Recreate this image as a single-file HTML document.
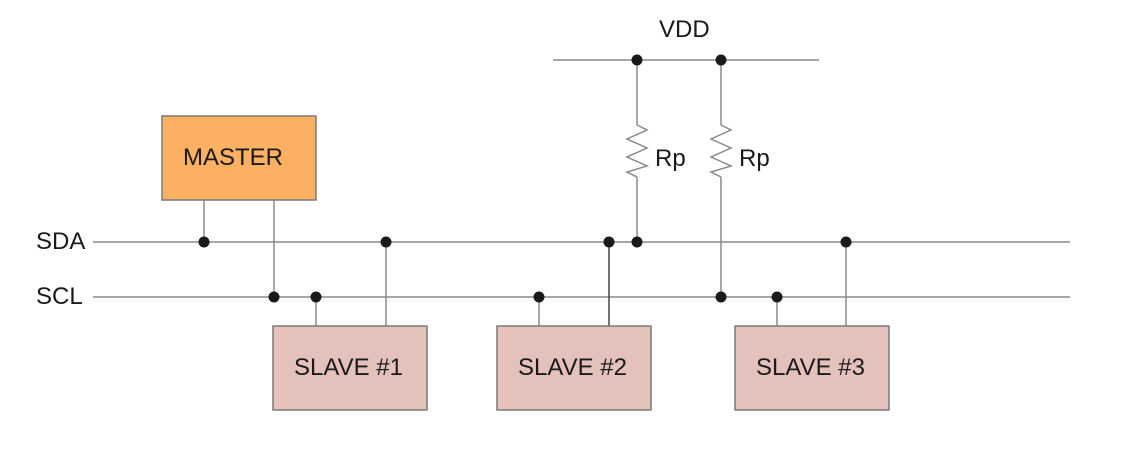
<!DOCTYPE html>
<html><head><style>body{margin:0;background:#fff}svg{display:block}</style></head><body>
<svg width="1128" height="461" viewBox="0 0 1128 461" xmlns="http://www.w3.org/2000/svg" font-family="Liberation Sans, Arial, sans-serif">
<g stroke="#8a8a8a" stroke-width="1.5" fill="none">
<line x1="553" y1="60" x2="819" y2="60"/>
<line x1="93" y1="242" x2="1070" y2="242"/>
<line x1="93" y1="297" x2="1070" y2="297"/>
<line x1="637" y1="60" x2="637" y2="125"/>
<line x1="637" y1="177" x2="637" y2="242"/>
<line x1="721" y1="60" x2="721" y2="125"/>
<line x1="721" y1="177" x2="721" y2="297"/>
<polyline points="637,125 647,130 627,139 647,148 627,157 647,166 627,172 637,177"/>
<polyline points="721,125 731,130 711,139 731,148 711,157 731,166 711,172 721,177"/>
<line x1="204" y1="200" x2="204" y2="242"/>
<line x1="274" y1="200" x2="274" y2="297"/>
<line x1="316" y1="297" x2="316" y2="326"/>
<line x1="386" y1="242" x2="386" y2="326"/>
<line x1="539" y1="297" x2="539" y2="326"/>
<line x1="609" y1="242" x2="609" y2="326" stroke="#444"/>
<line x1="777" y1="297" x2="777" y2="326"/>
<line x1="846" y1="242" x2="846" y2="326"/>
</g>
<rect x="162" y="116" width="154" height="84" fill="#fbb062" stroke="#7a7a7a" stroke-width="1.5"/>
<rect x="273" y="326" width="154" height="84" fill="#e5c1bc" stroke="#7a7a7a" stroke-width="1.5"/>
<rect x="497" y="326" width="154" height="84" fill="#e5c1bc" stroke="#7a7a7a" stroke-width="1.5"/>
<rect x="735" y="326" width="154" height="84" fill="#e5c1bc" stroke="#7a7a7a" stroke-width="1.5"/>
<g fill="#1a1a1a">
<circle cx="637" cy="60" r="5.5"/><circle cx="721" cy="60" r="5.5"/>
<circle cx="204" cy="242" r="5.5"/><circle cx="386" cy="242" r="5.5"/><circle cx="609" cy="242" r="5.5"/><circle cx="637" cy="242" r="5.5"/><circle cx="846" cy="242" r="5.5"/>
<circle cx="274" cy="297" r="5.5"/><circle cx="316" cy="297" r="5.5"/><circle cx="539" cy="297" r="5.5"/><circle cx="721" cy="297" r="5.5"/><circle cx="777" cy="297" r="5.5"/>
</g>
<g fill="#1a1a1a" font-size="24">
<text x="659" y="37">VDD</text>
<text x="655" y="166">Rp</text>
<text x="739" y="166">Rp</text>
<text x="36" y="249">SDA</text>
<text x="36" y="304">SCL</text>
<text x="183" y="165">MASTER</text>
<text x="294" y="375">SLAVE #1</text>
<text x="518" y="375">SLAVE #2</text>
<text x="756" y="375">SLAVE #3</text>
</g>
</svg>
</body></html>
